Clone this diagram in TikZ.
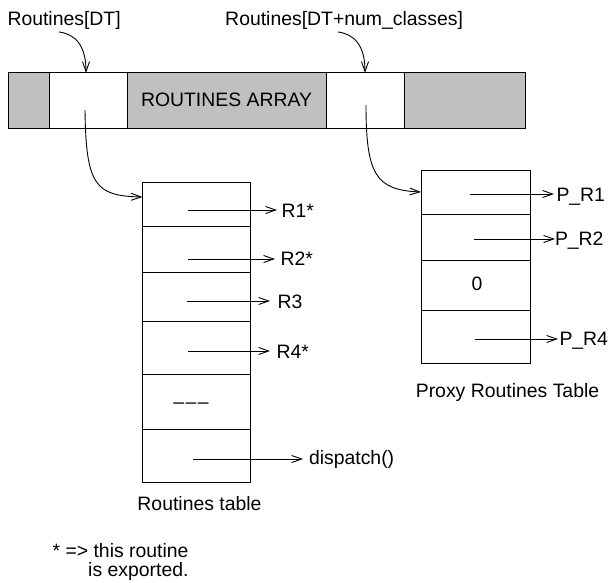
\documentclass[tikz,border=0pt]{standalone}
\usepackage{fontspec}
\setmainfont{Liberation Sans}
\usetikzlibrary{arrows.meta}
\definecolor{arraygray}{RGB}{192,192,192}
\begin{document}
\begin{tikzpicture}[x=1pt,y=-1pt,
  every node/.style={font=\fontsize{19.4}{19}\selectfont, inner sep=0pt, outer sep=0pt},
  cell/.style={draw, fill=white, line width=1pt, minimum width=#1},
  lbl/.style={anchor=base west},
  arr/.style={line width=0.9pt, -{Straight Barb[length=10pt,width=7pt,line width=0.9pt]}},
  gap/.style={shorten >=#1}]
\useasboundingbox (0,0) rectangle (610,583);

% routines array
\node[draw, fill=arraygray, line width=1pt, minimum width=517, minimum height=56] (array) at (266.5,101) {};
\node[cell=78, minimum height=56] (box1) at (88,101) {};
\node[cell=78, minimum height=56] (box2) at (365,101) {};
\node[lbl] (arrtext) at (141,107) {ROUTINES ARRAY};

% top labels
\node[lbl] (lDT) at (7.5,26) {Routines[DT]};
\node[anchor=base east] (lDTn) at (463,26) {Routines[DT+num\_classes]};
\coordinate (c1) at (59,32);
\coordinate (c2) at (338,32);
\draw[arr] (c1) .. controls (75,34) and (86,45) .. (box1.north -| 86,0);
\draw[arr] (c2) .. controls (354,34) and (365,45) .. (box2.north);

% routines table
\node[cell=108, minimum height=44] (r1) at (196.5,204) {};
\node[cell=108, minimum height=46] (r2) at (196.5,249) {};
\node[cell=108, minimum height=49] (r3) at (196.5,296.5) {};
\node[cell=108, minimum height=53] (r4) at (196.5,347.5) {};
\node[cell=108, minimum height=55] (r5) at (196.5,401.5) {};
\node[cell=108, minimum height=53] (r6) at (196.5,455.5) {};
\node[anchor=base] (dash) at (191,408.5) {\textendash\kern1.5pt\textendash\kern1.5pt\textendash};
\node[anchor=base] (rtab) at (199.5,510) {Routines table};

\coordinate (s1) at (188,210);
\coordinate (s2) at (188,259);
\coordinate (s3) at (187,301);
\coordinate (s4) at (188,351);
\coordinate (s6) at (193,459);
\node[lbl] (R1) at (281.5,217) {R1*};
\node[lbl] (R2) at (280.5,265) {R2*};
\node[lbl] (R3) at (277.5,308) {R3};
\node[lbl] (R4) at (276.5,358) {R4*};
\node[lbl] (disp) at (309,464) {dispatch()};
\draw[arr, gap=4.5pt] (s1) -- (s1 -| R1.west);
\draw[arr, gap=5.5pt] (s2) -- (s2 -| R2.west);
\draw[arr, gap=7.5pt] (s3) -- (s3 -| R3.west);
\draw[arr, gap=6.5pt] (s4) -- (s4 -| R4.west);
\draw[arr, gap=6pt] (s6) -- (s6 -| disp.west);

% proxy table
\node[cell=109, minimum height=44] (p1) at (475.5,192) {};
\node[cell=109, minimum height=46] (p2) at (475.5,237) {};
\node[cell=109, minimum height=50] (p3) at (475.5,285) {};
\node[cell=109, minimum height=53] (p4) at (475.5,336.5) {};
\node[anchor=base] (zero) at (477,290) {0};
\node[anchor=base] (ptab) at (507.5,397) {Proxy Routines Table};

\coordinate (t1) at (470,194);
\coordinate (t2) at (474,239);
\coordinate (t4) at (475,339);
\node[lbl] (P1) at (556.5,201) {P\_R1};
\node[lbl] (P2) at (555,245) {P\_R2};
\node[lbl] (P4) at (559.5,345) {P\_R4};
\draw[arr, gap=2.5pt] (t1) -- (t1 -| P1.west);
\draw[arr, gap=0pt] (t2) -- (t2 -| P2.west);
\draw[arr, gap=1.5pt] (t4) -- (t4 -| P4.west);

% curves from array to tables
\coordinate (b1) at (85,110);
\coordinate (b2) at (366,105);
\draw[arr] (b1) .. controls (86,185) and (95,196) .. (r1.west |- 0,197);
\draw[arr] (b2) .. controls (366,175) and (376,190) .. (p1.west |- 0,192);

% footnote
\node[anchor=south east, align=right] (note) at (188.5,580.5) {* => this routine\\is exported.};
\end{tikzpicture}
\end{document}
